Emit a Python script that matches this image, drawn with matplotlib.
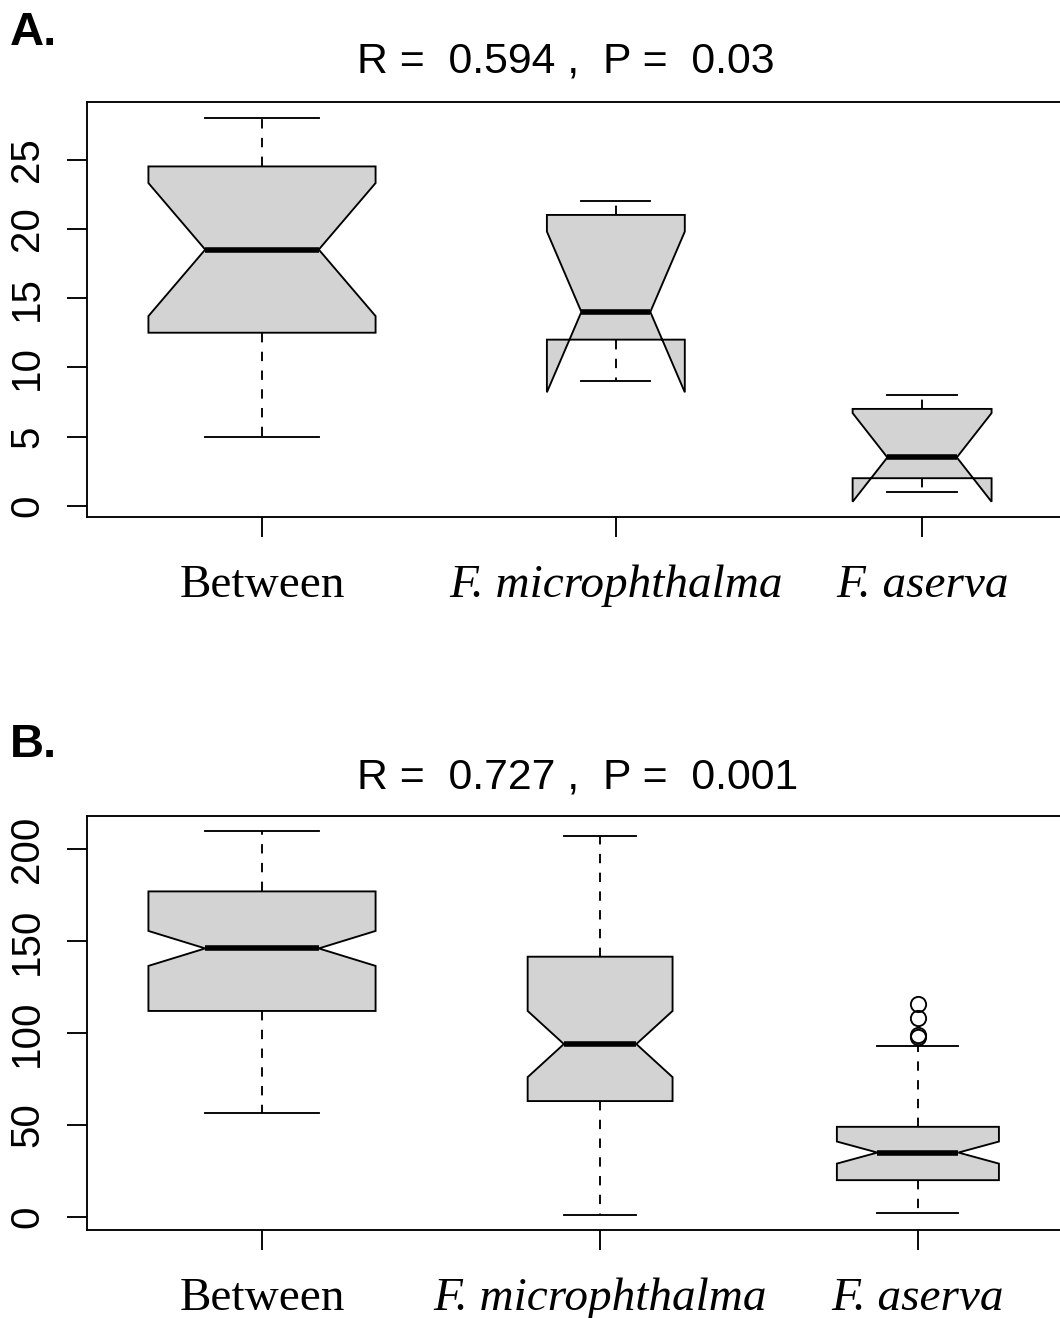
import matplotlib
matplotlib.use("Agg")
import matplotlib.pyplot as plt

# group labels
groups = ["Between", "F. microphthalma", "F. aserva"]
italic = [False, True, True]

# panel A: five-number summaries plus notch limits
a_whislo = [5.0, 9.0, 1.0]
a_q1 = [12.5, 12.0, 2.0]
a_med = [18.5, 14.0, 3.5]
a_q3 = [24.5, 21.0, 7.0]
a_whishi = [28.0, 22.0, 8.0]
a_cilo = [13.7, 8.2, 0.3]
a_cihi = [23.3, 19.8, 6.7]
a_fliers = [[], [], []]

# panel B
b_whislo = [56.5, 1.0, 2.0]
b_q1 = [112.0, 63.0, 20.0]
b_med = [146.0, 94.0, 35.0]
b_q3 = [177.0, 141.5, 49.0]
b_whishi = [210.0, 207.0, 93.0]
b_cilo = [136.5, 76.0, 29.0]
b_cihi = [155.5, 112.0, 41.0]
b_fliers = [[], [], [116.0, 108.0, 99.0, 98.0]]

a_title = "R =  0.594 ,  P =  0.03"
b_title = "R =  0.727 ,  P =  0.001"

a_ticks = [0, 5, 10, 15, 20, 25]
b_ticks = [0, 50, 100, 150, 200]

sans = "Liberation Sans"
serif = "Liberation Serif"
lw = 1.35

W, H = 1060, 1318
fig = plt.figure(figsize=(W / 100, H / 100), dpi=100)


def make_stats(whislo, q1, med, q3, whishi, cilo, cihi, fliers):
    out = []
    for i in range(len(med)):
        out.append(dict(whislo=whislo[i], q1=q1[i], med=med[i], q3=q3[i],
                        whishi=whishi[i], cilo=cilo[i], cihi=cihi[i],
                        fliers=fliers[i]))
    return out


def panel(rect, stats, positions, widths, ylim, yticks, title, letter,
          title_y, letter_y):
    ax = fig.add_axes(rect)
    ax.bxp(stats, positions=positions, widths=widths, patch_artist=True,
           shownotches=True, showfliers=True,
           boxprops=dict(facecolor="#d3d3d3", edgecolor="black", linewidth=lw),
           whiskerprops=dict(color="black", linewidth=lw, linestyle=(0, (5, 5))),
           capprops=dict(color="black", linewidth=lw),
           medianprops=dict(color="black", linewidth=4.0, solid_capstyle="butt"),
           flierprops=dict(marker="o", markersize=11, markerfacecolor="none",
                           markeredgecolor="black", markeredgewidth=lw))
    ax.set_xlim(0.5, 3.5)
    ax.set_ylim(*ylim)
    ax.set_yticks(yticks)
    ax.set_yticklabels([str(t) for t in yticks], rotation=90, va="center",
                       fontsize=29, family=sans)
    ax.set_xticks(positions)
    ax.set_xticklabels(groups, fontsize=34, family=serif)
    for lab, it in zip(ax.get_xticklabels(), italic):
        if it:
            lab.set_fontstyle("italic")
    ax.tick_params(axis="both", length=14.4, width=lw, color="black")
    ax.tick_params(axis="y", pad=15)
    ax.tick_params(axis="x", pad=20)
    for s in ax.spines.values():
        s.set_linewidth(lw)
    fig.text(357 / W, 1 - title_y / H, title, ha="left", va="baseline",
             fontsize=30.8, family=sans)
    fig.text(10 / W, 1 - letter_y / H, letter, ha="left", va="baseline",
             fontsize=34, family=sans, fontweight="bold")
    return ax


left = 87 / W
width = 1050 / W

stats_a = make_stats(a_whislo, a_q1, a_med, a_q3, a_whishi, a_cilo, a_cihi, a_fliers)
panel([left, 1 - 517 / H, width, 415 / H], stats_a,
      positions=[1.0, 2.011, 2.886], widths=[0.649, 0.394, 0.397],
      ylim=(-0.8, 29.15), yticks=a_ticks, title=a_title, letter="A.",
      title_y=73, letter_y=45)

stats_b = make_stats(b_whislo, b_q1, b_med, b_q3, b_whishi, b_cilo, b_cihi, b_fliers)
panel([left, 1 - 1230 / H, width, 414 / H], stats_b,
      positions=[1.0, 1.966, 2.874], widths=[0.649, 0.414, 0.463],
      ylim=(-7.1, 218.0), yticks=b_ticks, title=b_title, letter="B.",
      title_y=788, letter_y=757)

fig.savefig("out.png", dpi=100)
